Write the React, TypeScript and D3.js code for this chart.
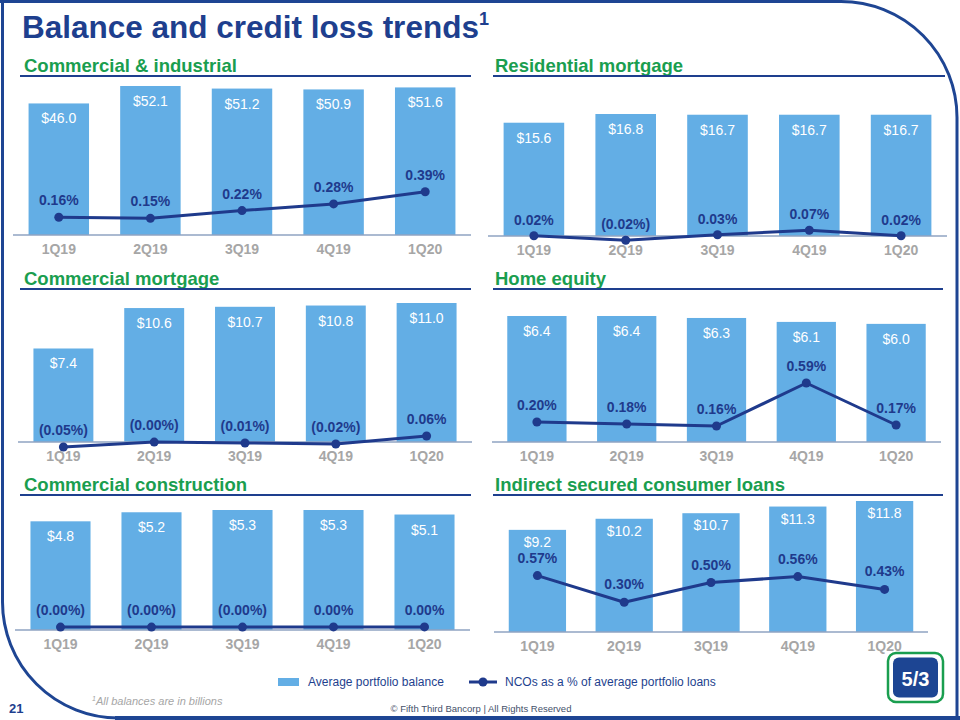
import React from 'react';
import * as d3 from 'd3';

// ---------- data ----------
const categories = ['1Q19', '2Q19', '3Q19', '4Q19', '1Q20'];

const ciBalance = [46.0, 52.1, 51.2, 50.9, 51.6];
const ciNco = [0.16, 0.15, 0.22, 0.28, 0.39];

const resBalance = [15.6, 16.8, 16.7, 16.7, 16.7];
const resNco = [0.02, -0.02, 0.03, 0.07, 0.02];

const cmBalance = [7.4, 10.6, 10.7, 10.8, 11.0];
const cmNco = [-0.05, -0.001, -0.01, -0.02, 0.06];

const heBalance = [6.4, 6.4, 6.3, 6.1, 6.0];
const heNco = [0.2, 0.18, 0.16, 0.59, 0.17];

const ccBalance = [4.8, 5.2, 5.3, 5.3, 5.1];
const ccNco = [-0.001, -0.001, -0.001, 0.001, 0.001];

const isBalance = [9.2, 10.2, 10.7, 11.3, 11.8];
const isNco = [0.57, 0.3, 0.5, 0.56, 0.43];

const panelTitles = [
  'Commercial & industrial',
  'Residential mortgage',
  'Commercial mortgage',
  'Home equity',
  'Commercial construction',
  'Indirect secured consumer loans',
];

const legendLabels = ['Average portfolio balance', 'NCOs as a % of average portfolio loans'];

// ---------- layout ----------
const FONT = '"Liberation Sans", Arial, Helvetica, sans-serif';
const NAVY = '#1E3F8E';
const FRAME = '#1E4593';
const GREEN = '#1A9E4F';
const BAR = '#63AEE5';
const LINE = '#1F3A8C';
const AXIS = '#8FA3C2';
const GRAY = '#A6A6A6';

const panels = [
  { title: panelTitles[0], balance: ciBalance, nco: ciNco, titleX: 24, titleY: 72, ruleY: 76, rule: [20, 471], x: [13, 471], base: 235, barTop: 86, pctZero: 235, pxPerPct: 111, balOff: 20, pctOff: 12 },
  { title: panelTitles[1], balance: resBalance, nco: resNco, titleX: 495, titleY: 72, ruleY: 76, rule: [493, 945], x: [488, 947], base: 236, barTop: 114, pctZero: 238, pxPerPct: 110, balOff: 20, pctOff: 11 },
  { title: panelTitles[2], balance: cmBalance, nco: cmNco, titleX: 24, titleY: 285, ruleY: 289, rule: [20, 471], x: [18, 472], base: 442, barTop: 303, pctZero: 442, pxPerPct: 100, balOff: 20, pctOff: 12 },
  { title: panelTitles[3], balance: heBalance, nco: heNco, titleX: 495, titleY: 285, ruleY: 289, rule: [493, 943], x: [492, 941], base: 442, barTop: 316, pctZero: 442, pxPerPct: 100, balOff: 20, pctOff: 12 },
  { title: panelTitles[4], balance: ccBalance, nco: ccNco, titleX: 24, titleY: 491, ruleY: 495, rule: [20, 471], x: [15, 470], base: 630, barTop: 510, pctZero: 627, pxPerPct: 100, balOff: 20, pctOff: 12 },
  { title: panelTitles[5], balance: isBalance, nco: isNco, titleX: 495, titleY: 491, ruleY: 495, rule: [493, 943], x: [494, 928], base: 632, barTop: 501, pctZero: 632, pxPerPct: 99, balOff: 17, pctOff: 13 },
];

const fmtBal = (v: number) => `$${v.toFixed(1)}`;
const fmtPct = (v: number) => (v < 0 ? `(${Math.abs(v).toFixed(2)}%)` : `${v.toFixed(2)}%`);

function Panel({ p }: { p: (typeof panels)[number] }) {
  const x = d3.scaleBand<string>().domain(categories).range(p.x as [number, number]).paddingInner(0.34).paddingOuter(0.17);
  const y = d3.scaleLinear().domain([0, d3.max(p.balance) as number]).range([p.base, p.barTop]);
  const yp = d3.scaleLinear().domain([0, 1]).range([p.pctZero, p.pctZero - p.pxPerPct]);
  const cx = (c: string) => (x(c) as number) + x.bandwidth() / 2;
  const line = d3
    .line<number>()
    .x((_, i) => cx(categories[i]))
    .y((d) => yp(d));
  return (
    <g>
      <text x={p.titleX} y={p.titleY} fill={GREEN} fontSize={18.5} fontWeight="bold" fontFamily={FONT}>
        {p.title}
      </text>
      <line x1={p.rule[0]} x2={p.rule[1]} y1={p.ruleY} y2={p.ruleY} stroke={NAVY} strokeWidth={2} />
      {p.balance.map((v, i) => (
        <rect key={'b' + i} x={x(categories[i])} y={y(v)} width={x.bandwidth()} height={p.base - y(v)} fill={BAR} />
      ))}
      <line x1={p.x[0]} x2={p.x[1]} y1={p.base} y2={p.base} stroke={AXIS} strokeWidth={1.5} />
      {p.balance.map((v, i) => (
        <text key={'bl' + i} x={cx(categories[i])} y={y(v) + p.balOff} fill="#fff" fontSize={14} textAnchor="middle" fontFamily={FONT}>
          {fmtBal(v)}
        </text>
      ))}
      <path d={line(p.nco) as string} fill="none" stroke={LINE} strokeWidth={3} strokeLinejoin="round" />
      {p.nco.map((v, i) => (
        <circle key={'c' + i} cx={cx(categories[i])} cy={yp(v)} r={4.5} fill={LINE} />
      ))}
      {p.nco.map((v, i) => (
        <text key={'pl' + i} x={cx(categories[i])} y={yp(v) - p.pctOff} fill={LINE} fontSize={14} fontWeight="bold" textAnchor="middle" fontFamily={FONT}>
          {fmtPct(v)}
        </text>
      ))}
      {categories.map((c) => (
        <text key={'cat' + c} x={cx(c)} y={p.base + 19} fill={GRAY} fontSize={14} fontWeight="bold" textAnchor="middle" fontFamily={FONT}>
          {c}
        </text>
      ))}
    </g>
  );
}

export default function App() {
  const R = 116;
  const frame = `M0,1.5 L${957 - R},1.5 A${R},${R} 0 0 1 957,${1.5 + R} L957,718 L${2.5 + R},718 A${R},${R} 0 0 1 2.5,${718 - R} L2.5,0`;
  return (
    <svg width={960} height={720} style={{ position: 'absolute', left: 0, top: 0, display: 'block', background: '#fff' }}>
      <rect width={960} height={720} fill="#fff" />
      <path d={frame} fill="none" stroke={FRAME} strokeWidth={3} />
      <rect x={115} y={716} width={845} height={4} fill={FRAME} />
      <text x={22} y={38} fill={NAVY} fontSize={31.5} fontWeight="bold" fontFamily={FONT}>
        Balance and credit loss trends
        <tspan fontSize={18} dy={-13}>1</tspan>
      </text>
      {panels.map((p, i) => (
        <Panel key={i} p={p} />
      ))}
      {/* legend */}
      <rect x={278} y={678} width={21} height={8} fill={BAR} />
      <text x={308} y={686} fill={NAVY} fontSize={12} fontFamily={FONT}>
        {legendLabels[0]}
      </text>
      <line x1={469} x2={497} y1={682} y2={682} stroke={LINE} strokeWidth={3} />
      <circle cx={483} cy={682} r={4.5} fill={LINE} />
      <text x={505} y={686} fill={NAVY} fontSize={12} fontFamily={FONT}>
        {legendLabels[1]}
      </text>
      {/* footer */}
      <text x={92} y={705} fill={GRAY} fontSize={11} fontStyle="italic" fontFamily={FONT}>
        <tspan fontSize={7} dy={-4}>1</tspan>
        <tspan dy={4}>All balances are in billions</tspan>
      </text>
      <text x={9} y={713} fill={NAVY} fontSize={13} fontWeight="bold" fontFamily={FONT}>
        21
      </text>
      <text x={481} y={712} fill="#44506A" fontSize={9.5} textAnchor="middle" fontFamily={FONT}>
        © Fifth Third Bancorp | All Rights Reserved
      </text>
      {/* logo */}
      <rect x={888} y={653} width={55} height={49} rx={8} fill="#fff" stroke={GREEN} strokeWidth={2.5} />
      <rect x={893} y={657.5} width={45} height={40} rx={6} fill="#1D4593" />
      <text x={915.5} y={686} fill="#fff" fontSize={20} fontWeight="bold" textAnchor="middle" fontFamily={FONT}>
        5/3
      </text>
    </svg>
  );
}
